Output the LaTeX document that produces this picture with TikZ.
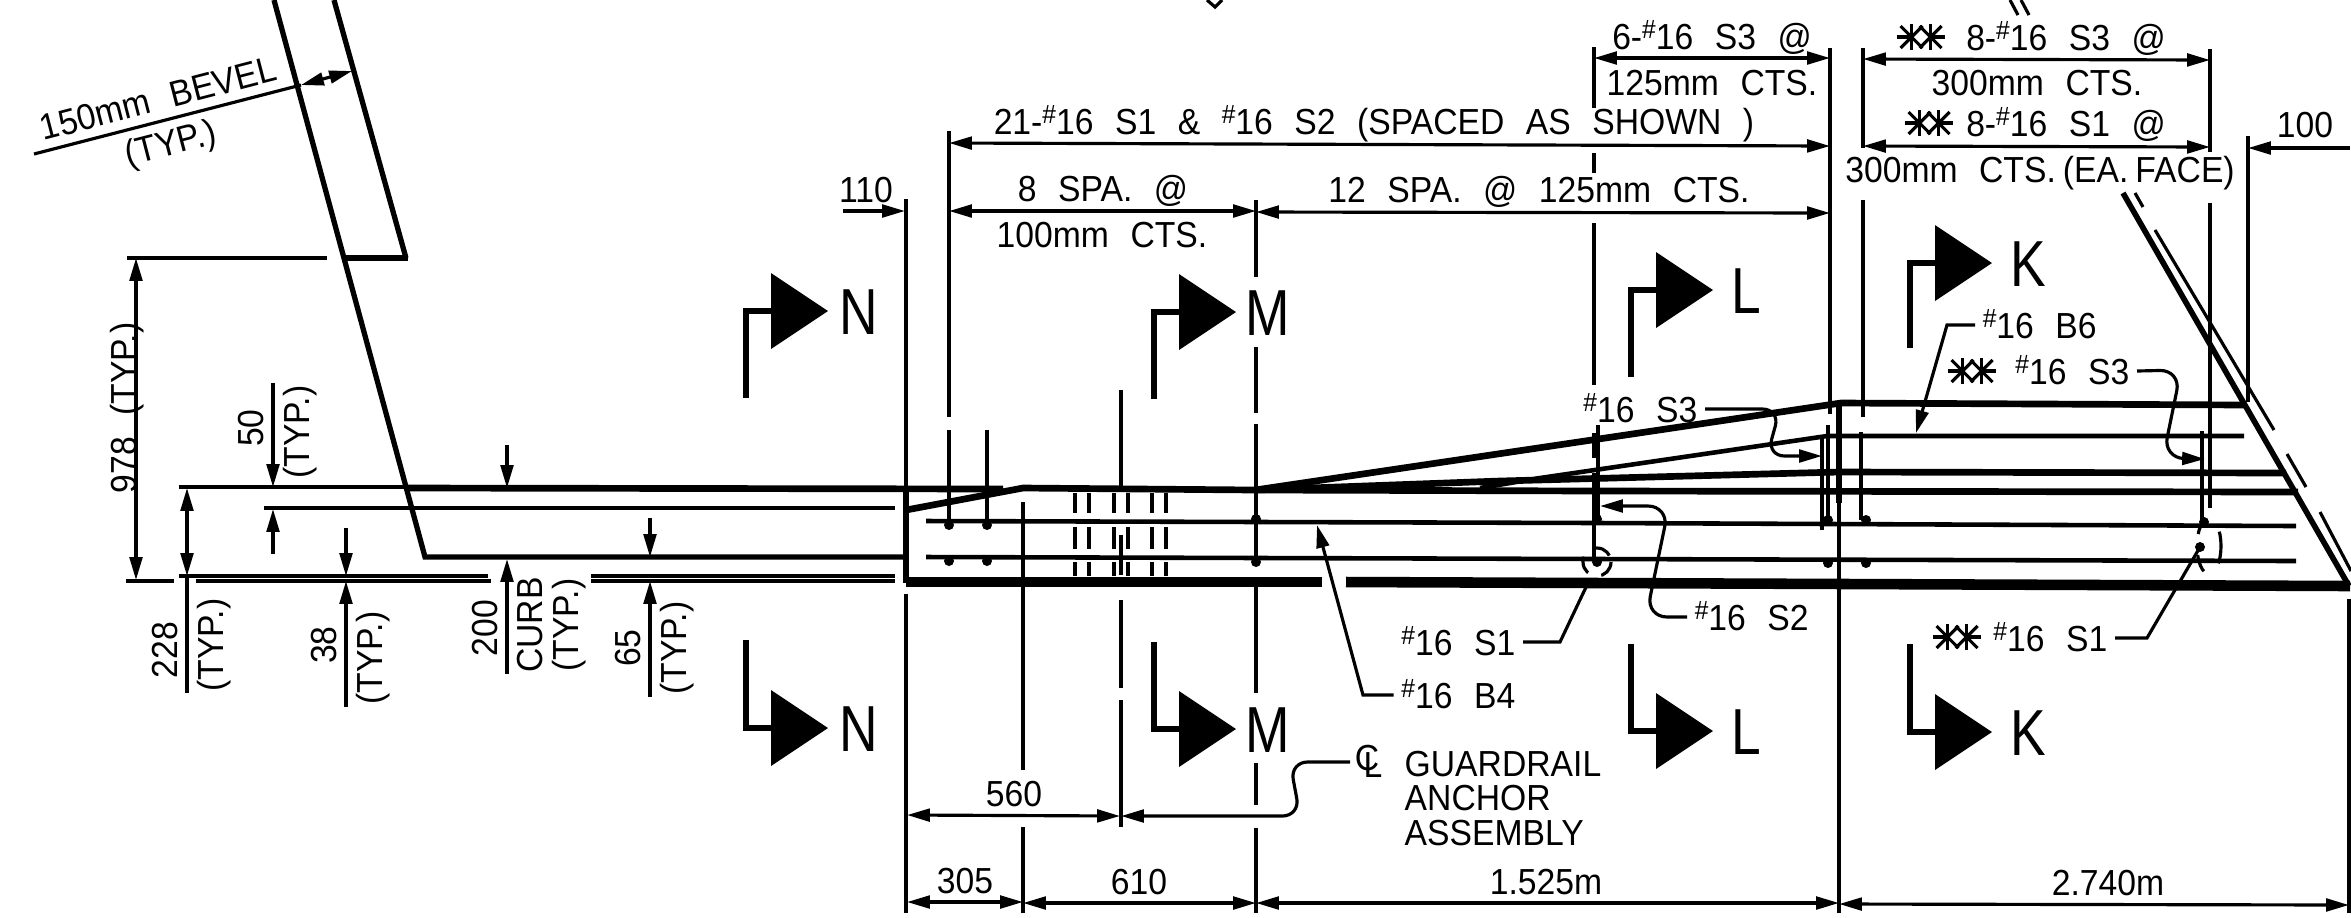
\documentclass[tikz,border=0pt]{standalone}
\usepackage{fontspec}
\setmainfont[WordSpace=2.3,FakeStretch=0.93]{Liberation Sans}
\newfontfamily\sectfont[FakeStretch=0.82]{Liberation Sans}
\usetikzlibrary{arrows.meta}
\newcommand{\bn}{\raisebox{0.3em}{\fontsize{7.5}{7.5}\selectfont\#}}
\tikzset{
    every node/.style={inner sep=0pt,text height=7.4pt,text depth=0pt,font=\fontsize{10.3}{12}\selectfont},
    lbl/.style={inner xsep=2pt},
    thinln/.style={line width=0.9pt},
    wire/.style={line width=1.3pt},
    slab/.style={line width=1.9pt},
    base/.style={line width=3pt},
    tipa/.style={-{Triangle[length=6.5pt,width=3.6pt]}},
    tipb/.style={{Triangle[length=6.5pt,width=3.6pt]}-{Triangle[length=6.5pt,width=3.6pt]}},
    sectxt/.style={font=\sectfont\fontsize{18.5}{20}\selectfont,text height=13.4pt}
}
\begin{document}
\begin{tikzpicture}[x=0.01cm,y=-0.01cm,line join=miter]
    \useasboundingbox (0,0) rectangle (2351,917);
    \foreach \bx/\my/\sy/\lx/\ltr in {771/311/398/859/N,1179/312/399/1268/M,1656/290/377/1746/L,1935/263/348/2028/K,771/728/640/859/N,1179/729/642/1268/M,1656/731/644/1746/L,1935/732/644/2028/K} {
        \draw[slab] (\bx-25,\sy) -- (\bx-25,\my) -- (\bx,\my);
        \fill (\bx,\my-38) -- (\bx+57,\my) -- (\bx,\my+38) -- cycle;
        \node[sectxt] (sec\ltr\my) at (\lx,\my) {\ltr};
    }
    \draw[wire,line width=1.5pt] (274,0) -- (425,557) -- (906,557);
    \draw[wire,line width=1.5pt] (334,0) -- (406,258);
    \draw[slab] (345,258) -- (408,258);
    \draw[thinln] (127,258) -- (327,258);
    \draw[slab] (408,488) -- (1003,489);
    \draw[thinln] (179,487) -- (408,487);
    \draw[thinln] (264,508) -- (895,508);
    \draw[thinln] (179,576) -- (488,576);
    \draw[thinln] (126,581) -- (174,581);
    \draw[thinln] (196,581) -- (491,581);
    \draw[thinln] (591,576) -- (895,576);
    \draw[thinln] (591,581) -- (895,581);
    \draw[slab] (906,488) -- (906,583);
    \draw[slab] (906,510) -- (1023,488) -- (1255,490) -- (1841,403) -- (2246,405);
    \draw[wire] (1480,488) -- (1540,478) -- (1827,436) -- (2244,436);
    \draw[slab] (1255,490) -- (1500,481) -- (1839,472) -- (2286,473);
    \draw[slab] (1255,490) -- (1600,491) -- (2298,492);
    \draw[wire] (926,521) -- (1600,523) -- (2296,526);
    \draw[wire] (926,557) -- (1600,559) -- (2296,561);
    \draw[base] (906,582) -- (1322,582);
    \draw[base] (1346,582) -- (2350,586);
    \draw[wire,line width=1.6pt] (2123,193) -- (2349,586);
    \foreach \xa/\ya/\xb/\yb in {2010/0/2018/15,2021/0/2029/15,2135/193/2143/207,2155/230/2274/430,2287/454/2306/487,2320/512/2351/571} {
        \draw[thinln] (\xa,\ya) -- (\xb,\yb);
    }
    \draw[thinln] (1207,0) -- (1215,7) -- (1222,0);
    \foreach \x/\ya/\yb in {906/199/490,906/594/913,949/131/417,1023/502/770,1023/827/913,1121/390/487,1121/535/575,1121/600/688,1121/700/827,1256/200/277,1256/347/413,1256/585/693,1256/763/805,1256/828/913,1594/47/108,1594/153/173,1594/223/385,1594/433/458,1830/48/414,1839/503/913,1863/48/148,1863/200/417,2210/49/152,2210/203/508,2248/136/402,2349/599/913} {
        \draw[thinln] (\x,\ya) -- (\x,\yb);
    }
    \foreach \x/\ya/\yb in {949/430/522,987/430/522,1256/424/565,1598/425/518,1594/473/557,1822/437/530,1828/425/522,1861/432/520,2202/431/522} {
        \draw[wire] (\x,\ya) -- (\x,\yb);
    }
    \draw[slab] (1839,403) -- (1839,503);
    \foreach \x in {1075,1089,1114,1128,1152,1166} {
        \foreach \ya/\yb in {493/513,527/549,562/576}
            \draw[wire,line width=1.1pt] (\x,\ya) -- (\x,\yb);
    }
    \foreach \x/\y in {949/525,987/525,1256/519,1597/519,1828/520,1866/520,2204/522,949/561,987/561,1256/562,1597/562,1828/563,1866/563,2200/547} {
        \fill (\x,\y) circle (5);
    }
    \draw[thinln,dash pattern=on 5pt off 4pt] (1597,562) circle (14);
    \draw[thinln,dash pattern=on 5pt off 6pt] (2209,546) ellipse (12 and 28);
    \foreach \sx/\sy in {1921/37,1929/123,1972/371,1957/637} {
        \draw[thinln] (\sx-24,\sy) -- (\sx-9,\sy);
        \draw[thinln] (\sx+9,\sy) -- (\sx+24,\sy);
        \foreach \ox in {-9.5,9.5} {
            \draw[thinln] (\sx+\ox,\sy-13) -- (\sx+\ox,\sy+13);
            \draw[thinln] (\sx+\ox-11,\sy-11) -- (\sx+\ox+11,\sy+11);
            \draw[thinln] (\sx+\ox-11,\sy+11) -- (\sx+\ox+11,\sy-11);
        }
    }
    \draw[thinln] (34,154) -- (301,85);
    \draw[thinln,tipb] (301,85) -- (352,71);
    \node[rotate=14.5] (bevel) at (158,98) {150mm BEVEL};
    \node[rotate=14.5] (beveltyp) at (170,142) {(TYP.)};
    \draw[thinln,tipb] (136,258) -- (136,580);
    \node[rotate=90] (dimtall) at (123,408) {978 (TYP.)};
    \draw[thinln,tipa] (273,383) -- (273,487);
    \draw[thinln,tipa] (273,554) -- (273,509);
    \node[rotate=90] (dimfifty) at (250,428) {50};
    \node[rotate=90] (dimfiftyt) at (296,432) {(TYP.)};
    \draw[thinln,tipb] (187,488) -- (187,576);
    \draw[thinln] (187,576) -- (187,693);
    \node[rotate=90] (dimcurb) at (164,650) {228};
    \node[rotate=90] (dimcurbt) at (210,645) {(TYP.)};
    \draw[thinln,tipa] (346,528) -- (346,576);
    \draw[thinln,tipa] (346,707) -- (346,581);
    \node[rotate=90] (dimcover) at (323,645) {38};
    \node[rotate=90] (dimcovert) at (369,658) {(TYP.)};
    \draw[thinln,tipa] (507,445) -- (507,488);
    \draw[thinln,tipa] (507,674) -- (507,559);
    \node[rotate=90] (dimrise) at (484,628) {200};
    \node[rotate=90] (dimriseb) at (529,625) {CURB};
    \node[rotate=90] (dimriset) at (565,625) {(TYP.)};
    \draw[thinln,tipa] (650,518) -- (650,557);
    \draw[thinln,tipa] (650,697) -- (650,581);
    \node[rotate=90] (dimlip) at (627,648) {65};
    \node[rotate=90] (dimlipt) at (673,648) {(TYP.)};
    \node (dimend) at (866,189) {110};
    \draw[thinln,tipa] (843,211) -- (905,211);
    \draw[thinln,tipb] (949,143) -- (1830,146);
    \node (barsall) at (1374,121) {21-\bn 16 S1 \& \bn 16 S2 (SPACED AS SHOWN )};
    \draw[thinln,tipb] (949,211) -- (1256,211);
    \draw[thinln,tipb] (1256,212) -- (1830,213);
    \node (barsa) at (1103,188) {8 SPA. @};
    \node (barsb) at (1102,234) {100mm CTS.};
    \node (barsc) at (1539,189) {12 SPA. @ 125mm CTS.};
    \draw[thinln,tipb] (1594,58) -- (1830,58);
    \node (barsd) at (1712,36) {6-\bn 16 S3 @};
    \node (barse) at (1712,82) {125mm CTS.};
    \draw[thinln,tipb] (1863,59) -- (2210,60);
    \node (barsf) at (2066,37) {8-\bn 16 S3 @};
    \node (barsg) at (2037,82) {300mm CTS.};
    \draw[thinln,tipb] (1863,146) -- (2210,147);
    \node (barsh) at (2066,123) {8-\bn 16 S1 @};
    \node (barsi) at (2040,169) {300mm CTS.\hspace{2pt}(EA.\hspace{2pt}FACE)};
    \node (dimhund) at (2305,124) {100};
    \coordinate (endhund) at (2350,148);
    \draw[thinln,tipa] (endhund) -- (2248,148);
    \node (dimnine) at (1014,793) {560};
    \draw[thinln,tipb] (907,815) -- (1120,816);
    \node (dimthree) at (965,880) {305};
    \draw[thinln,tipb] (907,902) -- (1023,902);
    \node (dimsix) at (1139,881) {610};
    \draw[thinln,tipb] (1023,903) -- (1256,903);
    \node (dimspan) at (1546,881) {1.525m};
    \draw[thinln,tipb] (1256,903) -- (1839,903);
    \node (dimlast) at (2108,882) {2.740m};
    \draw[thinln,tipb] (1839,904) -- (2349,905);
    \node[lbl,anchor=east] (lblStop) at (1705,409) {\bn 16 S3};
    \draw[thinln,tipa,rounded corners=5pt] (lblStop.east) -- (1780,409) -- (1767,456) -- (1822,456);
    \node[lbl,anchor=west] (lblStwo) at (1687,617) {\bn 16 S2};
    \draw[thinln,tipa,rounded corners=6pt] (lblStwo.west) -- (1646,617) -- (1669,506) -- (1600,506);
    \node[lbl,anchor=east] (lblSone) at (1523,642) {\bn 16 S1};
    \draw[thinln] (lblSone.east) -- (1560,642) -- (1587,585);
    \node[lbl,anchor=east] (lblBfour) at (1523,695) {\bn 16 B4};
    \draw[thinln,tipa] (lblBfour.west) -- (1363,695) -- (1317,525);
    \node[lbl,anchor=west] (lblBsix) at (1975,325) {\bn 16 B6};
    \draw[thinln,tipa] (lblBsix.west) -- (1947,325) -- (1916,433);
    \node[lbl,anchor=east] (lblSrt) at (2137,371) {\bn 16 S3};
    \draw[thinln,tipa,rounded corners=6pt] (lblSrt.east) -- (2181,370) -- (2163,458) -- (2205,459);
    \node[lbl,anchor=east] (lblSrb) at (2115,638) {\bn 16 S1};
    \draw[thinln] (lblSrb.east) -- (2147,638) -- (2200,547);
    \node (clc) at (1367,757) {C};
    \node (cll) at (1373,764) {L};
    \node[anchor=west] (anchora) at (1404,763) {GUARDRAIL};
    \node[anchor=west] (anchorb) at (1404,797) {ANCHOR};
    \node[anchor=west] (anchorc) at (1404,832) {ASSEMBLY};
    \coordinate (clstart) at (1350,762);
    \draw[thinln,tipa,rounded corners=5pt] (clstart) -- (1290,762) -- (1300,816) -- (1121,816);
\end{tikzpicture}
\end{document}
